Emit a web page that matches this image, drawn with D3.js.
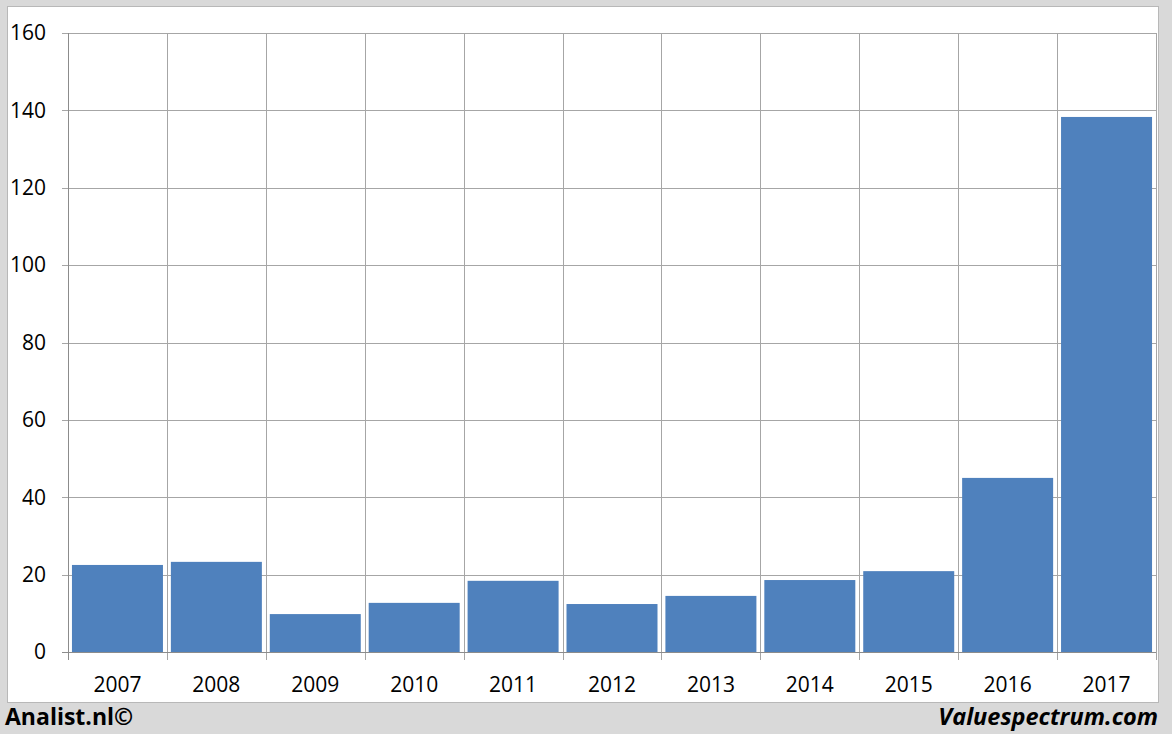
<!DOCTYPE html>
<html><head><meta charset="utf-8">
<script src="https://cdn.jsdelivr.net/npm/d3@7"></script>
<style>body{margin:0;background:#d9d9d9;}svg{display:block;}</style>
</head><body>
<svg id="c" width="1172" height="734"></svg>
<script>
const categories = ["2007","2008","2009","2010","2011","2012","2013","2014","2015","2016","2017"];
const values = [22.5, 23.3, 9.8, 12.7, 18.4, 12.4, 14.5, 18.6, 20.9, 45.0, 138.3];
const yTicks = [0, 20, 40, 60, 80, 100, 120, 140, 160];

const svg = d3.select("#c");
const W = 1172, H = 734;
const m = {left: 68, right: 1156, top: 33, bottom: 652};
const font = "'Open Sans', sans-serif";

svg.append("rect").attr("width", W).attr("height", H).attr("fill", "#d9d9d9");
svg.append("rect").attr("x", 7.5).attr("y", 6.5).attr("width", 1151).attr("height", 696)
  .attr("fill", "#fff").attr("stroke", "#b8b8b8").attr("stroke-width", 1);

const x = d3.scaleBand().domain(categories).range([m.left, m.right]).paddingInner(0.08).paddingOuter(0.04);
const xb = d3.scaleBand().domain(categories).range([m.left, m.right]).padding(0);
const y = d3.scaleLinear().domain([0, 160]).range([m.bottom, m.top]);

const grid = svg.append("g");
grid.selectAll("line.h").data(yTicks).join("line")
  .attr("x1", m.left - 6).attr("x2", m.right)
  .attr("y1", d => Math.round(y(d)) + 0.5).attr("y2", d => Math.round(y(d)) + 0.5)
  .attr("stroke", "#a6a6a6").attr("stroke-width", 1);
const bounds = categories.map(c => xb(c)).concat([m.right]);
grid.selectAll("line.v").data(bounds).join("line")
  .attr("x1", d => Math.round(d) + 0.5).attr("x2", d => Math.round(d) + 0.5)
  .attr("y1", m.top).attr("y2", m.bottom + 8)
  .attr("stroke", "#a6a6a6").attr("stroke-width", 1);

svg.append("g").selectAll("rect").data(values).join("rect")
  .attr("x", (d, i) => x(categories[i]))
  .attr("width", x.bandwidth())
  .attr("y", d => y(d))
  .attr("height", d => y(0) - y(d))
  .attr("fill", "#4f81bd");

svg.append("line").attr("x1", m.left + 0.5).attr("x2", m.left + 0.5).attr("y1", m.top).attr("y2", m.bottom + 8)
  .attr("stroke", "#8c8c8c");
svg.append("line").attr("x1", m.left - 6).attr("x2", m.right).attr("y1", m.bottom + 0.5).attr("y2", m.bottom + 0.5)
  .attr("stroke", "#8c8c8c");

svg.append("g").selectAll("text").data(yTicks).join("text")
  .attr("x", 46).attr("y", d => y(d)).attr("dy", "0.35em")
  .attr("text-anchor", "end").attr("font-family", font).attr("font-size", 21).attr("fill", "#000")
  .text(d => d);

svg.append("g").selectAll("text").data(categories).join("text")
  .attr("x", d => xb(d) + xb.bandwidth() / 2).attr("y", 685).attr("dy", "0.35em")
  .attr("text-anchor", "middle").attr("font-family", font).attr("font-size", 21).attr("fill", "#000")
  .text(d => d);

svg.append("text").attr("x", 5).attr("y", 717).attr("dy", "0.35em")
  .attr("font-family", font).attr("font-weight", "bold").attr("font-size", 23).attr("fill", "#000")
  .text("Analist.nl©");
svg.append("text").attr("x", 1158).attr("y", 717).attr("dy", "0.35em").attr("text-anchor", "end")
  .attr("font-family", font).attr("font-weight", "bold").attr("font-style", "italic").attr("font-size", 23.5).attr("fill", "#000")
  .text("Valuespectrum.com");
</script>
</body></html>
